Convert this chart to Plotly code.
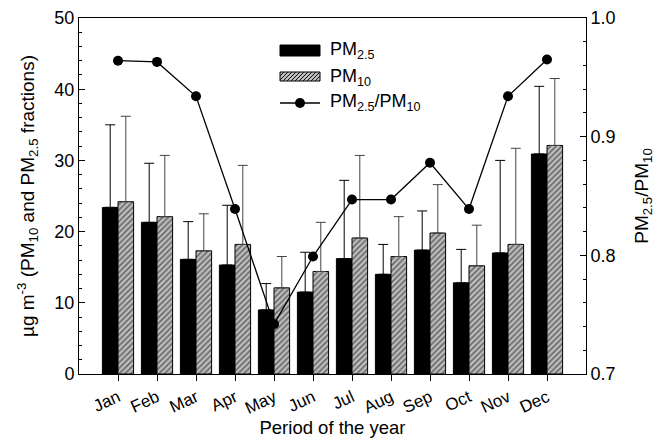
import plotly.graph_objects as go

# Monthly mean concentrations (µg m-3) with upper standard deviations
months = ["Jan", "Feb", "Mar", "Apr", "May", "Jun",
          "Jul", "Aug", "Sep", "Oct", "Nov", "Dec"]
pm25 = [23.4, 21.3, 16.1, 15.3, 9.0, 11.5, 16.2, 14.0, 17.4, 12.8, 17.0, 30.9]
pm25_sd = [11.6, 8.3, 5.3, 8.4, 3.7, 5.6, 11.0, 4.2, 5.5, 4.7, 13.0, 9.5]
pm10 = [24.2, 22.1, 17.3, 18.2, 12.1, 14.4, 19.1, 16.5, 19.8, 15.2, 18.2, 32.1]
pm10_sd = [12.0, 8.6, 5.2, 11.1, 4.4, 6.9, 11.6, 5.6, 6.8, 5.7, 13.5, 9.4]
ratio = [0.964, 0.963, 0.934, 0.839, 0.742, 0.799,
         0.847, 0.847, 0.878, 0.839, 0.934, 0.965]

xpos = list(range(len(months)))

FONT = "Liberation Sans, Arial, sans-serif"
W, H = 658, 438
L, R, T, B = 79, 72, 18, 64
PW, PH = W - L - R, H - T - B

HATCH_BG = "#bdbdbd"


def px(x):
    return (x - L) / PW


def py(y):
    return 1 - (y - T) / PH


fig = go.Figure()

fig.add_trace(go.Bar(
    x=xpos, y=pm25, width=0.4, offset=-0.4,
    marker=dict(color="black", line=dict(color="black", width=1)),
    error_y=dict(type="data", array=pm25_sd, symmetric=False,
                 arrayminus=[0] * len(pm25), color="black",
                 thickness=1, width=5),
    name="PM2.5", showlegend=False,
))

fig.add_trace(go.Bar(
    x=xpos, y=pm10, width=0.4, offset=0,
    marker=dict(color=HATCH_BG, line=dict(color="black", width=1),
                pattern=dict(shape="/", bgcolor=HATCH_BG, fgcolor="#111111",
                             size=4, solidity=0.4)),
    error_y=dict(type="data", array=pm10_sd, symmetric=False,
                 arrayminus=[0] * len(pm10), color="#444444",
                 thickness=1, width=5),
    name="PM10", showlegend=False,
))

fig.add_trace(go.Scatter(
    x=xpos, y=ratio, yaxis="y2", mode="lines+markers",
    line=dict(color="black", width=1.3),
    marker=dict(color="black", size=10),
    name="PM2.5/PM10", showlegend=False,
))

# Hand-drawn legend in the upper middle of the plot
shapes = []
lx0, lx1 = 280, 320
# PM2.5 solid box
shapes.append(dict(type="rect", xref="paper", yref="paper",
                   x0=px(lx0), x1=px(lx1), y0=py(56), y1=py(45),
                   fillcolor="black", line=dict(color="black", width=1)))
# PM10 hatched box
hy0, hy1 = 72, 81
shapes.append(dict(type="rect", xref="paper", yref="paper",
                   x0=px(lx0), x1=px(lx1), y0=py(hy1), y1=py(hy0),
                   fillcolor=HATCH_BG, line=dict(color="black", width=1)))
step = 4
hh = hy1 - hy0
k = lx0 - hh
segs = []
while k < lx1:
    xa, ya = k, hy1
    xb, yb = k + hh, hy0
    if xa < lx0:
        ya = hy1 - (lx0 - xa)
        xa = lx0
    if xb > lx1:
        yb = hy0 + (xb - lx1)
        xb = lx1
    if xb > xa:
        segs.append(f"M{px(xa)},{py(ya)} L{px(xb)},{py(yb)}")
    k += step
shapes.append(dict(type="path", xref="paper", yref="paper",
                   path=" ".join(segs), line=dict(color="#111111", width=1)))
# Ratio line sample
shapes.append(dict(type="line", xref="paper", yref="paper",
                   x0=px(lx0), x1=px(lx1), y0=py(103), y1=py(103),
                   line=dict(color="black", width=1.3)))
shapes.append(dict(type="circle", xref="paper", yref="paper",
                   x0=px(295), x1=px(305), y0=py(108), y1=py(98),
                   fillcolor="black", line=dict(color="black", width=0)))

annotations = []
for label, yc in [("PM<sub>2.5</sub>", 50), ("PM<sub>10</sub>", 77),
                  ("PM<sub>2.5</sub>/PM<sub>10</sub>", 103)]:
    annotations.append(dict(text=label, xref="paper", yref="paper",
                            x=px(328), y=py(yc), xanchor="left",
                            yanchor="middle", showarrow=False,
                            font=dict(size=18, color="black", family=FONT)))

fig.update_layout(
    width=W, height=H,
    margin=dict(l=L, r=R, t=T, b=B, autoexpand=False),
    paper_bgcolor="white", plot_bgcolor="white",
    font=dict(family=FONT, size=18, color="black"),
    barmode="overlay",
    showlegend=False,
    shapes=shapes,
    annotations=annotations,
    xaxis=dict(
        range=[-1, 12], tickmode="array", tickvals=xpos, ticktext=months,
        tickangle=-25, ticks="outside", ticklen=6, tickcolor="black",
        showline=True, linecolor="black", linewidth=1, mirror=True,
        showgrid=False, zeroline=False,
        tickfont=dict(size=17),
        title=dict(text="Period of the year", font=dict(size=18.5), standoff=6),
    ),
    yaxis=dict(
        range=[0, 50], dtick=10, ticks="inside", ticklen=6, tickcolor="black",
        minor=dict(dtick=2, ticks="inside", ticklen=3, tickcolor="black"),
        showline=True, linecolor="black", linewidth=1,
        showgrid=False, zeroline=False, tickfont=dict(size=18),
        title=dict(text="µg m<sup>-3</sup> (PM<sub>10</sub> and PM<sub>2.5</sub> fractions)",
                   font=dict(size=19), standoff=14),
    ),
    yaxis2=dict(
        overlaying="y", side="right", range=[0.7, 1.0], dtick=0.1,
        tickformat=".1f", ticks="inside", ticklen=6, tickcolor="black",
        minor=dict(dtick=0.02, ticks="inside", ticklen=3, tickcolor="black"),
        showline=True, linecolor="black", linewidth=1,
        showgrid=False, zeroline=False, tickfont=dict(size=18),
        title=dict(text="PM<sub>2.5</sub>/PM<sub>10</sub>",
                   font=dict(size=19), standoff=20),
    ),
)

fig.write_html("out.html")
